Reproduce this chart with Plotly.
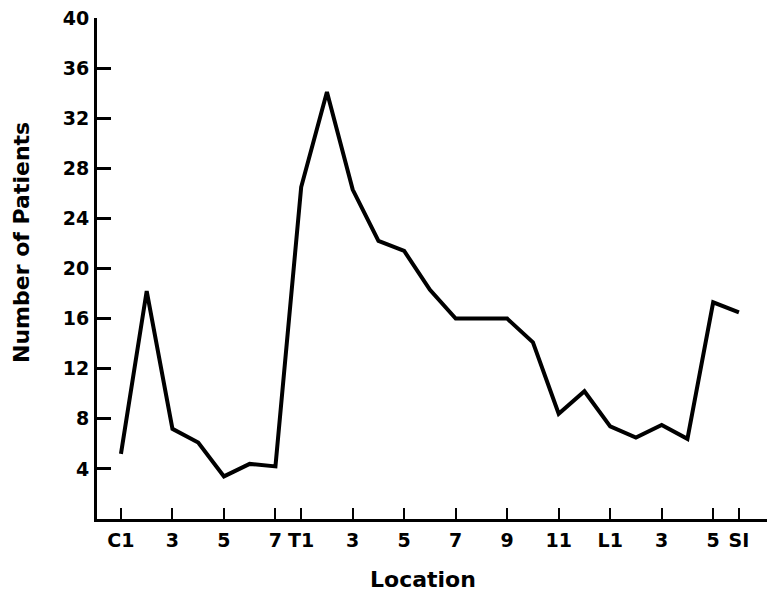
import plotly.graph_objects as go

locations = ["C1", "C2", "C3", "C4", "C5", "C6", "C7",
             "T1", "T2", "T3", "T4", "T5", "T6", "T7", "T8", "T9", "T10", "T11", "T12",
             "L1", "L2", "L3", "L4", "L5", "S1"]
patients = [5.2, 18.2, 7.2, 6.1, 3.4, 4.4, 4.2,
            26.5, 34.1, 26.3, 22.2, 21.4, 18.3, 16.0, 16.0, 16.0, 14.1, 8.4, 10.2,
            7.4, 6.5, 7.5, 6.4, 17.3, 16.5]

tick_locations = ["C1", "C3", "C5", "C7", "T1", "T3", "T5", "T7", "T9", "T11", "L1", "L3", "L5", "S1"]
tick_labels = ["C1", "3", "5", "7", "T1", "3", "5", "7", "9", "11", "L1", "3", "5", "SI"]
y_ticks = [4, 8, 12, 16, 20, 24, 28, 32, 36, 40]

x_title = "Location"
y_title = "Number of Patients"

font_family = "DejaVu Sans"

fig = go.Figure()
fig.add_trace(go.Scatter(
    x=locations, y=patients, mode="lines",
    line=dict(color="black", width=4),
    showlegend=False, hoverinfo="skip",
))

fig.update_layout(
    width=772, height=593,
    margin=dict(l=97, r=5, t=18, b=74),
    plot_bgcolor="white", paper_bgcolor="white",
    font=dict(family=font_family, color="black", size=19, weight="bold"),
    xaxis=dict(
        type="category",
        categoryorder="array", categoryarray=locations,
        range=[-0.93, 25.09],
        tickmode="array", tickvals=tick_locations, ticktext=tick_labels,
        ticks="inside", ticklen=11, tickwidth=2, tickcolor="black",
        showline=True, linecolor="black", linewidth=3,
        showgrid=False, zeroline=False, automargin=False,
        tickfont=dict(family=font_family, size=19, weight="bold"),
        ticklabelstandoff=2,
    ),
    yaxis=dict(
        range=[0, 40],
        tickmode="array", tickvals=y_ticks,
        ticks="inside", ticklen=14, tickwidth=2.5, tickcolor="black",
        showline=True, linecolor="black", linewidth=3,
        showgrid=False, zeroline=False, automargin=False,
        tickfont=dict(family=font_family, size=19, weight="bold"),
        ticklabelstandoff=1,
    ),
    annotations=[
        dict(text=x_title, xref="paper", yref="paper", x=0.4866, y=-0.1198,
             xanchor="center", yanchor="middle", showarrow=False,
             font=dict(family=font_family, size=22, weight="bold")),
        dict(text=y_title, xref="paper", yref="paper", x=-0.112, y=0.5529,
             xanchor="center", yanchor="middle", showarrow=False, textangle=-90,
             font=dict(family=font_family, size=22, weight="bold")),
    ],
)

fig.write_html("out.html", config={"displayModeBar": False},
               post_script="document.body.style.margin='0';document.body.style.overflow='hidden';")
